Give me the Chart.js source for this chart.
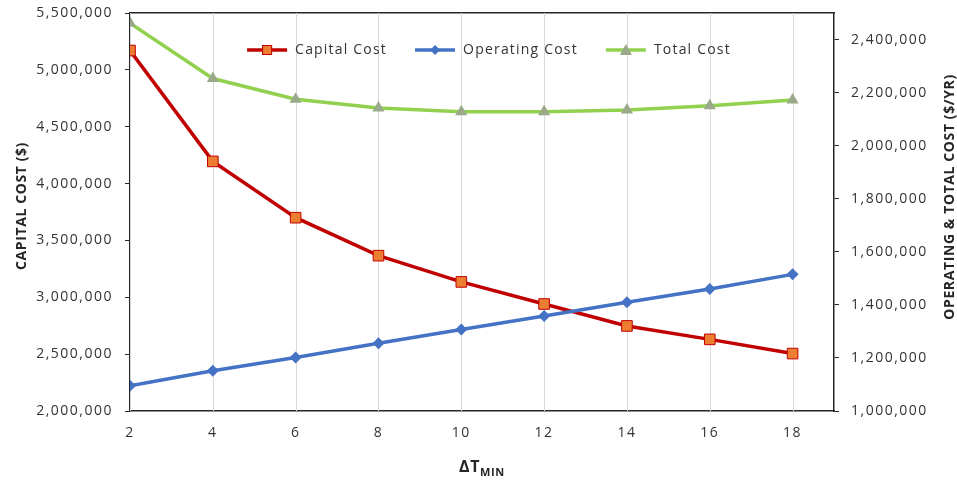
<!DOCTYPE html>
<html>
<head>
<meta charset="utf-8">
<script src="https://cdn.jsdelivr.net/npm/chart.js@4"></script>
<style>
  html, body { margin: 0; padding: 0; background: #ffffff; }
  #wrap { width: 957px; height: 481px; }
</style>
</head>
<body>
<div id="wrap"><canvas id="c" width="957" height="481"></canvas></div>
<script>
// ΔTmin sweep and the resulting costs
const dtMin = [2, 4, 6, 8, 10, 12, 14, 16, 18];
const capitalCost   = [5170000, 4195000, 3700000, 3366000, 3135000, 2941000, 2748000, 2630000, 2505000];
const operatingCost = [1095000, 1152000, 1202000, 1255000, 1307000, 1358000, 1410000, 1460000, 1515000];
const totalCost     = [2462000, 2253000, 2175000, 2142000, 2128000, 2128000, 2134000, 2150000, 2172000];

// Axis tick values
const dtTicks      = [2, 4, 6, 8, 10, 12, 14, 16, 18];
const capitalTicks = [2000000, 2500000, 3000000, 3500000, 4000000, 4500000, 5000000, 5500000];
const costTicks    = [1000000, 1200000, 1400000, 1600000, 1800000, 2000000, 2200000, 2400000];

const FONT = '"Open Sans", "Noto Sans", sans-serif';
const TEXT = '#333333';
const AXIS = '#262626';

const RED = '#c00000', ORANGE = '#ed7d31';
const BLUE = '#4472c4';
const GREEN = '#92d050', TRI = '#9aa98a';

const pts = vals => dtMin.map((x, i) => ({ x: x, y: vals[i] }));
const fmt = v => Number(v).toLocaleString('en-US');

// Legend swatches: a short line with the series marker in the middle
function drawSwatch(ctx, i, x, y) {
  const colors = [RED, BLUE, GREEN];
  ctx.save();
  ctx.strokeStyle = colors[i]; ctx.lineWidth = 3.5;
  ctx.beginPath(); ctx.moveTo(x, y); ctx.lineTo(x + 40, y); ctx.stroke();
  const cx = x + 20;
  if (i === 0) {
    ctx.fillStyle = ORANGE; ctx.strokeStyle = RED; ctx.lineWidth = 1;
    ctx.fillRect(cx - 5, y - 5, 10, 10); ctx.strokeRect(cx - 4.5, y - 4.5, 9, 9);
  } else if (i === 1) {
    ctx.fillStyle = BLUE; ctx.beginPath();
    ctx.moveTo(cx, y - 5); ctx.lineTo(cx + 5, y); ctx.lineTo(cx, y + 5); ctx.lineTo(cx - 5, y);
    ctx.closePath(); ctx.fill();
  } else {
    ctx.fillStyle = TRI; ctx.beginPath();
    ctx.moveTo(cx, y - 6); ctx.lineTo(cx + 6, y + 5); ctx.lineTo(cx - 6, y + 5);
    ctx.closePath(); ctx.fill();
  }
  ctx.restore();
}

const spacing = {
  id: 'spacing',
  beforeUpdate(chart) { chart.ctx.letterSpacing = '1.5px'; },
  beforeLayout(chart) { chart.ctx.letterSpacing = '1.5px'; },
  beforeDraw(chart) { chart.ctx.letterSpacing = '1.5px'; }
};

// Light vertical guide at every ΔTmin tick
const vgrid = {
  id: 'vgrid',
  beforeDatasetsDraw(chart) {
    const { ctx, chartArea, scales } = chart;
    ctx.save();
    ctx.strokeStyle = '#d9d9d9';
    ctx.lineWidth = 1;
    dtTicks.forEach(v => {
      const px = Math.round(scales.x.getPixelForValue(v)) + 0.5;
      ctx.beginPath(); ctx.moveTo(px, chartArea.top); ctx.lineTo(px, chartArea.bottom); ctx.stroke();
    });
    ctx.restore();
  }
};

// In-plot legend row
const legendRow = {
  id: 'legendRow',
  afterDatasetsDraw(chart) {
    const { ctx, chartArea } = chart;
    const labels = chart.data.datasets.map(d => d.label);
    ctx.save();
    ctx.letterSpacing = '1.2px';
    ctx.font = '14px ' + FONT;
    ctx.fillStyle = TEXT;
    ctx.textBaseline = 'middle';
    ctx.textAlign = 'left';
    const widths = labels.map(t => ctx.measureText(t).width);
    const total = widths.reduce((a, w) => a + 48 + w, 0) + 28 * (labels.length - 1);
    let x = (chartArea.left + chartArea.right) / 2 + 7 - total / 2;
    const y = chartArea.top + 37;
    labels.forEach((t, i) => {
      drawSwatch(ctx, i, x, y);
      ctx.fillText(t, x + 48, y);
      x += 48 + widths[i] + 28;
    });
    ctx.restore();
  }
};

// Axis titles (the right one reads bottom-to-top, the x title has a subscript)
const titles = {
  id: 'titles',
  afterDraw(chart) {
    const { ctx, chartArea } = chart;
    const midY = (chartArea.top + chartArea.bottom) / 2;
    ctx.save();
    ctx.fillStyle = AXIS;
    ctx.letterSpacing = '0.6px';
    ctx.textAlign = 'center';
    ctx.textBaseline = 'middle';
    ctx.font = 'bold 14px ' + FONT;

    ctx.save();
    ctx.translate(22, midY - 6);
    ctx.rotate(-Math.PI / 2);
    ctx.fillText('CAPITAL COST ($)', 0, 0);
    ctx.restore();

    ctx.save();
    ctx.translate(chart.width - 7, midY - 15);
    ctx.rotate(-Math.PI / 2);
    ctx.fillText('OPERATING & TOTAL COST ($/YR)', 0, 0);
    ctx.restore();

    const cx = (chartArea.left + chartArea.right) / 2;
    const big = 'bold 16px ' + FONT, small = 'bold 11px ' + FONT;
    ctx.font = big; const w1 = ctx.measureText('ΔT').width;
    ctx.font = small; const w2 = ctx.measureText('MIN').width;
    const x0 = cx - (w1 + w2) / 2;
    ctx.textAlign = 'left';
    ctx.textBaseline = 'alphabetic';
    ctx.font = big; ctx.fillText('ΔT', x0, 472);
    ctx.font = small; ctx.fillText('MIN', x0 + w1, 476);
    ctx.restore();
  }
};

// Fixed axis box sizes; vertical axes do not reserve extra room for end labels
const sideAxis = w => s => { s.width = w; s.paddingTop = 0; s.paddingBottom = 0; };

new Chart(document.getElementById('c'), {
  type: 'line',
  data: {
    datasets: [
      {
        label: 'Capital Cost', data: pts(capitalCost), yAxisID: 'y', order: 3,
        borderColor: RED, borderWidth: 3.5, tension: 0,
        pointStyle: 'rect', pointRadius: 7.5, pointBackgroundColor: ORANGE,
        pointBorderColor: RED, pointBorderWidth: 1
      },
      {
        label: 'Operating Cost', data: pts(operatingCost), yAxisID: 'y2', order: 2,
        borderColor: BLUE, borderWidth: 3.5, tension: 0,
        pointStyle: 'rectRot', pointRadius: 6, pointBackgroundColor: BLUE,
        pointBorderColor: BLUE, pointBorderWidth: 0
      },
      {
        label: 'Total Cost', data: pts(totalCost), yAxisID: 'y2', order: 1,
        borderColor: GREEN, borderWidth: 3.5, tension: 0,
        pointStyle: 'triangle', pointRadius: 7, pointBackgroundColor: TRI,
        pointBorderColor: TRI, pointBorderWidth: 0
      }
    ]
  },
  options: {
    responsive: false,
    animation: false,
    devicePixelRatio: 1,
    layout: { padding: 0 },
    plugins: {
      tooltip: { enabled: false },
      legend: { display: false }
    },
    scales: {
      x: {
        type: 'linear', position: 'bottom', min: 2, max: 19,
        afterBuildTicks: s => { s.ticks = dtTicks.map(v => ({ value: v })); },
        afterFit: s => { s.height = 70; s.paddingLeft = 0; s.paddingRight = 0; },
        grid: { display: false, drawTicks: false },
        border: { display: true, color: AXIS, width: 1.5 },
        ticks: { color: TEXT, font: { family: FONT, size: 14 }, padding: 14, maxRotation: 0 }
      },
      xTop: {
        type: 'linear', position: 'top', min: 2, max: 19,
        afterFit: s => { s.height = 13; s.paddingLeft = 0; s.paddingRight = 0; },
        grid: { display: false, drawTicks: false },
        border: { display: true, color: AXIS, width: 1.5 },
        ticks: { display: false }
      },
      y: {
        type: 'linear', position: 'left', min: 2000000, max: 5500000,
        afterBuildTicks: s => { s.ticks = capitalTicks.map(v => ({ value: v })); },
        afterFit: sideAxis(130),
        grid: { display: true, drawOnChartArea: false, drawTicks: true, tickLength: 5, color: AXIS, lineWidth: 1 },
        border: { display: true, color: AXIS, width: 1.5 },
        ticks: { color: TEXT, font: { family: FONT, size: 14 }, padding: 12, callback: fmt }
      },
      y2: {
        type: 'linear', position: 'right', min: 1000000, max: 2500000,
        afterBuildTicks: s => { s.ticks = costTicks.map(v => ({ value: v })); },
        afterFit: sideAxis(123),
        grid: { display: true, drawOnChartArea: false, drawTicks: true, tickLength: 5, color: AXIS, lineWidth: 1 },
        border: { display: true, color: AXIS, width: 1.5 },
        ticks: { color: TEXT, font: { family: FONT, size: 14 }, padding: 12, callback: fmt }
      }
    }
  },
  plugins: [spacing, vgrid, legendRow, titles]
});
</script>
</body>
</html>
